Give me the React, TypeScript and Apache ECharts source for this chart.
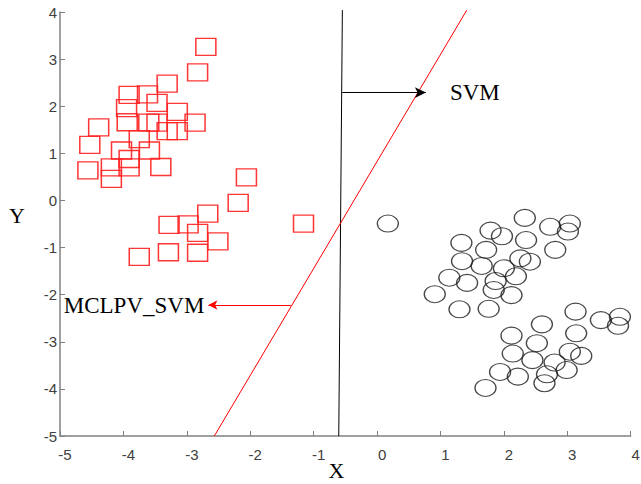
import React, { useEffect, useRef } from "react";
import * as echarts from "echarts";

// Class 1 (red squares)
const squareX = [-2.70, -2.83, -3.31, -3.91, -3.62, -3.47, -3.95, -3.15, -4.39, -3.94, -3.60, -3.47, -2.87, -3.31, -3.15, -3.75, -4.53, -4.03, -3.59, -3.91, -4.56, -4.19, -3.91, -3.41, -4.19, -2.06, -2.19, -2.67, -1.16, -3.28, -2.98, -2.83, -2.51, -3.75, -3.29, -2.83];
const squareY = [3.26, 2.72, 2.48, 2.24, 2.25, 2.07, 1.96, 1.88, 1.55, 1.66, 1.65, 1.65, 1.65, 1.47, 1.47, 1.30, 1.18, 1.06, 1.06, 0.88, 0.64, 0.70, 0.70, 0.71, 0.46, 0.49, -0.05, -0.28, -0.49, -0.52, -0.51, -0.69, -0.87, -1.20, -1.10, -1.11];

// Class 2 (black circles)
const circleX = [0.17, 2.33, 2.73, 3.04, 3.01, 1.79, 1.97, 2.35, 1.33, 2.81, 1.72, 1.34, 2.26, 2.41, 1.65, 2.00, 2.19, 1.14, 1.42, 1.87, 1.84, 0.91, 2.12, 1.30, 1.76, 3.13, 3.53, 3.83, 3.80, 2.60, 3.14, 2.12, 2.52, 2.14, 2.45, 3.04, 3.22, 2.80, 2.99, 1.94, 2.22, 2.68, 2.64, 1.71];
const circleY = [-0.49, -0.37, -0.56, -0.49, -0.66, -0.64, -0.76, -0.84, -0.90, -1.05, -1.05, -1.29, -1.23, -1.30, -1.39, -1.44, -1.61, -1.64, -1.75, -1.71, -1.90, -1.99, -2.01, -2.31, -2.30, -2.36, -2.54, -2.47, -2.66, -2.63, -2.82, -2.87, -3.03, -3.25, -3.39, -3.21, -3.30, -3.44, -3.60, -3.64, -3.74, -3.69, -3.88, -3.98];

// Separating lines
const svmLineX = [-0.604, -0.547];
const svmLineY = [-5, 4.04];
const mclpvLineX = [-2.566, 1.415];
const mclpvLineY = [-5, 4.04];

// Annotation arrows [from, to]
const svmArrow = [[-0.55, 2.29], [0.77, 2.29]];
const mclpvArrow = [[-1.36, -2.22], [-2.66, -2.22]];
const svmLabel = "SVM";
const mclpvLabel = "MCLPV_SVM";

const axisMin = -5;
const axisMax = 4;

const serif = "'Liberation Serif', 'Times New Roman', serif";
const sans = "'Liberation Sans', Arial, sans-serif";

export default function App() {
  const ref = useRef<HTMLDivElement>(null);
  useEffect(() => {
    if (!ref.current) return;
    const chart = echarts.init(ref.current, undefined, { renderer: "svg" });
    const axisCommon = {
      type: "value" as const,
      min: axisMin,
      max: axisMax,
      interval: 1,
      splitLine: { show: false },
      axisLine: { show: true, onZero: false, lineStyle: { color: "#808080", width: 1.5 } },
      axisTick: { show: true, inside: true, length: 5, lineStyle: { color: "#808080", width: 1 } },
    };
    chart.setOption({
      animation: false,
      backgroundColor: "#ffffff",
      grid: { left: 60, right: 10.3, top: 12, bottom: 48, containLabel: false, outerBoundsMode: "none" },
      xAxis: {
        ...axisCommon,
        name: "X",
        nameLocation: "middle",
        nameGap: 23,
        nameMoveOverlap: false,
        nameTextStyle: { fontFamily: serif, fontSize: 22, lineHeight: 22, color: "#000", padding: [0, 18, 0, 0] },
        axisLabel: { color: "#404040", fontFamily: sans, fontSize: 15, margin: 11, padding: [0, 0, 0, 10] },
      },
      yAxis: {
        ...axisCommon,
        name: "Y",
        nameLocation: "middle",
        nameRotate: 0,
        nameGap: 35,
        nameMoveOverlap: false,
        nameTextStyle: { fontFamily: serif, fontSize: 22, lineHeight: 18, color: "#000", verticalAlign: "bottom" },
        axisLabel: { color: "#404040", fontFamily: sans, fontSize: 15, margin: 3 },
      },
      series: [
        {
          type: "scatter",
          data: squareX.map((x, i) => [x, squareY[i]]),
          symbol: "rect",
          symbolSize: [20, 17],
          itemStyle: { color: "rgba(0,0,0,0)", borderColor: "#ff2020", borderWidth: 1.4, opacity: 0.9 },
          z: 2,
        },
        {
          type: "scatter",
          data: circleX.map((x, i) => [x, circleY[i]]),
          symbol: "path://M0,10 A10,10 0 1,1 20,10 A10,10 0 1,1 0,10 Z",
          symbolSize: [21, 17],
          itemStyle: { color: "rgba(0,0,0,0)", borderColor: "#1a1a1a", borderWidth: 1.2 },
          z: 2,
        },
        {
          type: "line",
          data: svmLineX.map((x, i) => [x, svmLineY[i]]),
          showSymbol: false,
          symbol: "none",
          clip: false,
          lineStyle: { color: "#000000", width: 1 },
          z: 3,
          markLine: {
            silent: true,
            symbol: ["none", "arrow"],
            symbolSize: [8, 11],
            lineStyle: { color: "#000000", width: 1, type: "solid" },
            label: {
              show: true,
              position: "end",
              distance: 24,
              formatter: svmLabel,
              fontFamily: serif,
              fontSize: 23,
              color: "#000",
            },
            data: [[{ coord: svmArrow[0] }, { coord: svmArrow[1] }]],
          },
        },
        {
          type: "line",
          data: mclpvLineX.map((x, i) => [x, mclpvLineY[i]]),
          showSymbol: false,
          symbol: "none",
          clip: false,
          lineStyle: { color: "#ff0000", width: 1 },
          z: 3,
          markLine: {
            silent: true,
            symbol: ["none", "arrow"],
            symbolSize: [7, 9],
            lineStyle: { color: "#ff0000", width: 1, type: "solid" },
            label: {
              show: true,
              position: "end",
              distance: 4,
              formatter: mclpvLabel,
              fontFamily: serif,
              fontSize: 23,
              color: "#000",
            },
            data: [[{ coord: mclpvArrow[0] }, { coord: mclpvArrow[1] }]],
          },
        },
      ],
    });
    return () => chart.dispose();
  }, []);
  return (
    <div
      ref={ref}
      style={{ position: "fixed", left: 0, top: 0, width: 641, height: 484, background: "#fff" }}
    />
  );
}
